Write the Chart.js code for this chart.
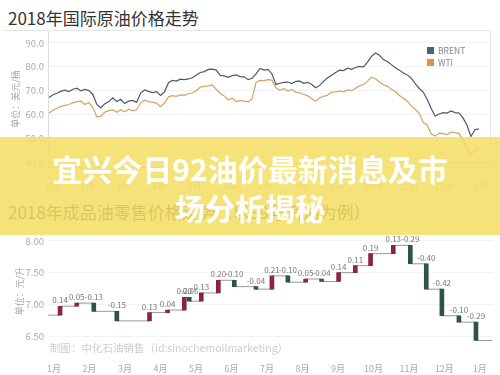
<!DOCTYPE html>
<html>
<head>
<meta charset="utf-8">
<script src="https://cdn.jsdelivr.net/npm/chart.js@4.4.1/dist/chart.umd.min.js"></script>
<style>
body { margin:0; width:500px; height:375px; position:relative; overflow:hidden; background:#fff; font-family:"Noto Sans CJK SC","Noto Sans",sans-serif; }
.ttl { position:absolute; left:8px; font-size:17px; line-height:20px; color:#333; white-space:nowrap; }
canvas { position:absolute; left:0; }
#frame { position:absolute; left:5px; top:30px; width:485px; height:150px; border-top:1px solid #e6e6e6; border-right:1px solid #e6e6e6; }
.lg { position:absolute; left:427px; font-size:8.5px; line-height:10px; color:#888; display:flex; align-items:center; }
.lg i { display:inline-block; width:7px; height:7px; margin-right:4px; }
#src { position:absolute; left:50px; top:341px; font-size:10.5px; line-height:14px; color:#ccc; white-space:nowrap; }
#banner { position:absolute; left:0; top:137px; width:500px; height:98px; background:rgba(243,222,100,0.86); }
#banner div { position:absolute; left:0; width:500px; top:12px; text-align:center; color:#fff; font-weight:bold; font-size:30px; line-height:39px; }
</style>
</head>
<body>
<div class="ttl" style="top:8px">2018年国际原油价格走势</div>
<div id="frame"></div>
<canvas id="oil" width="500" height="190" style="top:0"></canvas>
<div class="lg" style="top:45px"><i style="background:#4d6178"></i>BRENT</div>
<div class="lg" style="top:57px"><i style="background:#d9964b"></i>WTI</div>
<div class="ttl" style="top:202px">2018年成品油零售价格走势（以89号汽油为例）</div>
<canvas id="retail" width="500" height="145" style="top:230px"></canvas>
<div id="src">制图：中化石油销售（id:sinochemoilmarketing）</div>
<div id="banner"><div>宜兴今日92油价最新消息及市<br>场分析揭秘</div></div>
<script>
// month labels shared by both charts (Jan 2018 .. Jan 2019)
const months = ["1月","2月","3月","4月","5月","6月","7月","8月","9月","10月","11月","12月","1月"];

// crude prices, USD/barrel
const brent = [67.1, 68.3, 68.9, 69.8, 70.2, 69.6, 70.6, 71.0, 69.9, 70.5,
  70.0, 68.4, 64.2, 62.8, 64.5, 65.4, 67.0, 65.4, 66.4, 64.6,
  65.6, 65.9, 65.1, 69.0, 70.3, 69.7, 69.2, 69.6, 68.0, 69.5,
  73.3, 74.3, 74.0, 74.8, 74.6, 74.9, 75.4, 76.6, 77.6, 78.0,
  78.9, 79.0, 78.6, 76.4, 76.2, 75.6, 76.3, 76.6, 75.9, 75.8,
  74.6, 75.2, 77.0, 79.3, 78.6, 78.9, 77.0, 72.6, 73.1, 73.5,
  73.6, 73.0, 73.9, 74.0, 73.1, 73.5, 72.6, 71.2, 72.2, 74.0,
  75.4, 76.5, 77.6, 78.6, 78.4, 79.4, 78.9, 79.7, 80.2, 80.0,
  82.0, 84.4, 85.8, 84.8, 83.0, 82.2, 80.9, 79.6, 78.6, 77.4,
  76.6, 75.2, 72.9, 70.9, 69.4, 66.3, 62.5, 59.4, 60.2, 60.8,
  60.6, 61.5, 60.8, 60.6, 58.6, 55.5, 50.8, 53.6, 54.0];
const wti = [60.6, 61.8, 62.6, 63.4, 63.8, 64.2, 64.9, 65.4, 65.6, 64.2,
  65.0, 63.0, 59.0, 59.2, 61.0, 61.6, 61.9, 60.9, 62.0, 61.1,
  62.2, 61.5, 62.0, 64.8, 66.0, 65.4, 65.2, 64.8, 63.3, 64.8,
  67.4, 67.9, 67.6, 68.2, 68.0, 68.7, 69.0, 70.0, 71.5, 71.8,
  72.0, 72.4, 70.6, 68.8, 67.8, 66.2, 66.8, 65.4, 65.9, 65.6,
  65.3, 66.5, 73.5, 74.3, 74.2, 74.6, 74.4, 71.2, 70.1, 70.8,
  69.8, 70.5, 69.4, 69.0, 68.4, 67.8, 66.6, 65.6, 67.0, 67.6,
  68.2, 69.4, 69.5, 69.8, 69.5, 70.3, 70.0, 71.0, 72.0, 72.6,
  74.0, 75.6, 75.0, 73.6, 72.5, 71.8, 70.6, 69.6, 68.0, 66.8,
  65.6, 63.6, 62.2, 60.5, 56.6, 55.6, 51.8, 51.0, 52.2, 52.0,
  51.6, 52.6, 52.4, 52.0, 49.5, 46.0, 42.9, 45.3, 45.8];
const crudeFrom = -0.08, crudeTo = 11.97;   // first/last trading day, in months
const crudeTicks = [40, 50, 60, 70, 80, 90];

// retail price of 89# gasoline, yuan/litre, and the adjustments
const retailPrices = [6.83, 6.97, 7.02, 6.89, 6.74, 6.87, 6.91, 7.11, 7.05, 7.18, 7.38, 7.28, 7.24,
  7.45, 7.35, 7.40, 7.36, 7.50, 7.61, 7.80, 7.93, 7.64, 7.24, 6.82, 6.72, 6.43];
const adjMonths = [0.17, 0.64, 1.12, 1.77, 2.69, 3.20, 3.67, 3.81, 4.15, 4.63, 5.08, 5.69, 6.14,
  6.59, 7.09, 7.54, 8.02, 8.49, 8.92, 9.56, 10.04, 10.49, 10.93, 11.41, 11.89];
const adjDeltas = [0.14, 0.05, -0.13, -0.15, 0.13, 0.04, 0.20, -0.06, 0.13, 0.20, -0.10, -0.04, 0.21,
  -0.10, 0.05, -0.04, 0.14, 0.11, 0.19, 0.13, -0.29, -0.40, -0.42, -0.10, -0.29];
const retailFrom = -0.17, retailTo = 12.36;
const retailTicks = [6.5, 7.0, 7.5, 8.0];

Chart.defaults.font.family = '"Noto Sans CJK SC","Noto Sans",sans-serif';

function spread(vals) {
  const step = (crudeTo - crudeFrom) / (vals.length - 1);
  return vals.map((v, i) => ({x: crudeFrom + i * step, y: v}));
}
function monthTicks(s) { s.ticks = months.map((m, i) => ({value: i})); }

new Chart("oil", {
  type: "line",
  data: {
    datasets: [
      {label: "BRENT", data: spread(brent), borderColor: "#4b596c", borderWidth: 1.2, pointRadius: 0},
      {label: "WTI", data: spread(wti), borderColor: "#d2a463", borderWidth: 1.2, pointRadius: 0}
    ]
  },
  options: {
    responsive: false,
    animation: false,
    layout: {padding: {top: 31, right: 10, left: 0, bottom: 0}},
    plugins: {legend: {display: false}, tooltip: {enabled: false}},
    scales: {
      x: {
        type: "linear", min: -0.11, max: 12.28,
        afterBuildTicks: monthTicks,
        afterFit: s => { s.height = 23; },
        ticks: {callback: v => months[v], color: "#bbb", font: {size: 9}, padding: 6, maxRotation: 0, autoSkip: false},
        grid: {display: false},
        border: {color: "#ddd"}
      },
      y: {
        min: 38, max: 95,
        afterBuildTicks: s => { s.ticks = crudeTicks.map(v => ({value: v})); },
        afterFit: s => { s.width = 48; },
        ticks: {callback: v => v.toFixed(1), color: "#aaa", font: {size: 9.5}, padding: 4},
        grid: {color: "#f2f2f2", drawTicks: false},
        border: {color: "#ddd"},
        title: {display: true, text: "单位：美元/桶", color: "#aaa", font: {size: 9}, padding: {top: 10, bottom: 0}}
      }
    }
  }
});

const deltaLabels = {
  id: "deltaLabels",
  afterDatasetsDraw(chart) {
    const meta = chart.getDatasetMeta(1);
    const ctx = chart.ctx;
    ctx.save();
    ctx.font = '8px "Noto Sans CJK SC","Noto Sans",sans-serif';
    ctx.fillStyle = "#777";
    ctx.textAlign = "center";
    ctx.textBaseline = "bottom";
    meta.data.forEach((bar, i) => {
      ctx.fillText(adjDeltas[i].toFixed(2), bar.x, Math.min(bar.y, bar.base) - 2);
    });
    ctx.restore();
  }
};

const stepLine = [{x: retailFrom, y: retailPrices[0]}]
  .concat(adjMonths.map((m, i) => ({x: m, y: retailPrices[i + 1]})))
  .concat([{x: retailTo, y: retailPrices[retailPrices.length - 1]}]);
const bars = adjMonths.map((m, i) => ({x: m, y: [retailPrices[i], retailPrices[i + 1]]}));

new Chart("retail", {
  type: "bar",
  data: {
    datasets: [
      {type: "line", data: stepLine, stepped: "before", borderColor: "#999", borderWidth: 1, pointRadius: 0, order: 2},
      {type: "bar", data: bars, barThickness: 4, order: 1,
        backgroundColor: adjDeltas.map(d => d > 0 ? "#8a2446" : "#2e5444")}
    ]
  },
  options: {
    responsive: false,
    animation: false,
    layout: {padding: {top: 8.7, right: 5, left: 0, bottom: 0}},
    plugins: {legend: {display: false}, tooltip: {enabled: false}},
    scales: {
      x: {
        type: "linear", min: retailFrom, max: retailTo, offset: false,
        afterBuildTicks: monthTicks,
        afterFit: s => { s.height = 32.6; },
        ticks: {callback: v => months[v], color: "#aaa", font: {size: 9}, padding: 13, maxRotation: 0, autoSkip: false},
        grid: {display: false},
        border: {display: false}
      },
      y: {
        min: 6.40, max: 8.02,
        afterBuildTicks: s => { s.ticks = retailTicks.map(v => ({value: v})); },
        afterFit: s => { s.width = 48; },
        ticks: {callback: v => v.toFixed(2), color: "#aaa", font: {size: 9.5}, padding: 4},
        grid: {color: "#f3f3f3", drawTicks: false},
        border: {display: false},
        title: {display: true, text: "单位：元/升", color: "#aaa", font: {size: 9}, padding: {top: 14, bottom: 0}}
      }
    }
  },
  plugins: [deltaLabels]
});
</script>
</body>
</html>
